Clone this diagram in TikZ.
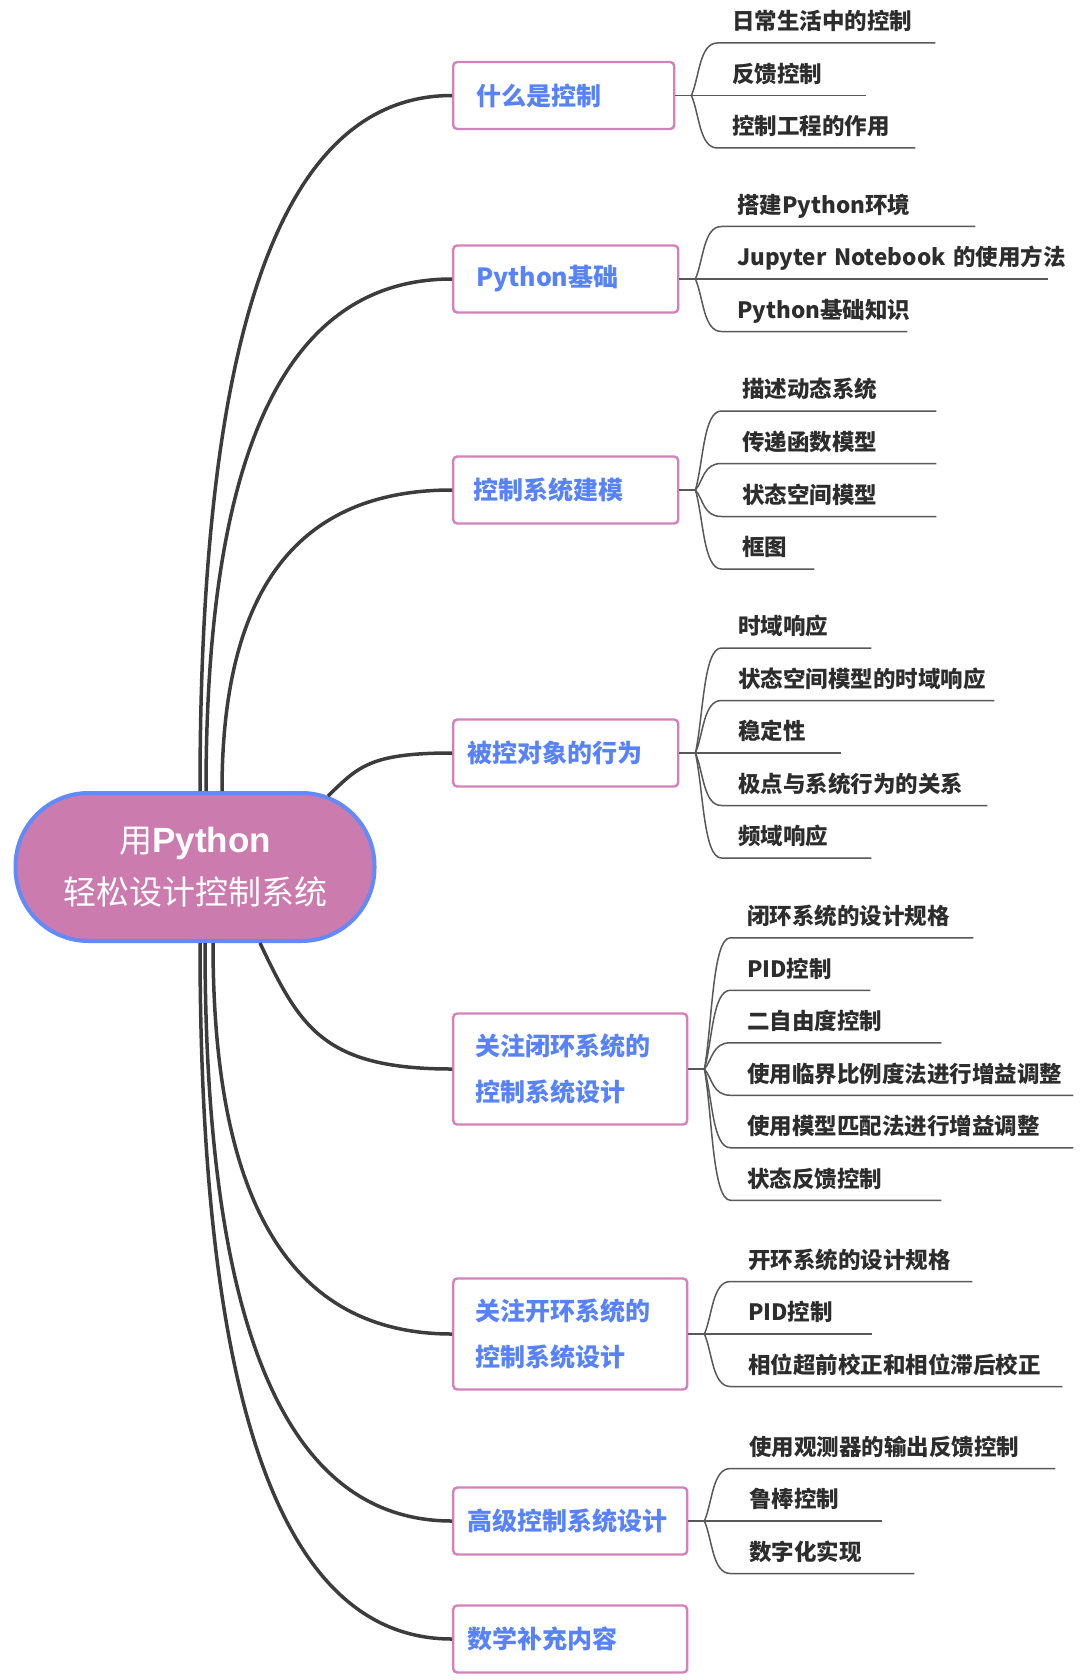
\documentclass[tikz,border=0pt]{standalone}
\usepackage{fontspec}
\usepackage{tikz}
\usetikzlibrary{calc,positioning}
\newfontfamily\cjk{Noto Sans CJK SC}
\newfontfamily\latinbf{Liberation Sans}
\definecolor{rootfill}{RGB}{203,123,173}
\definecolor{rootedge}{RGB}{98,138,250}
\definecolor{topicedge}{RGB}{212,128,186}
\definecolor{topictext}{RGB}{88,130,250}
\definecolor{limbgray}{RGB}{60,60,60}
\definecolor{twiggray}{RGB}{88,88,88}
\definecolor{leaftext}{RGB}{45,45,45}
% root -> topic, and fork -> leaf underline
\newcommand{\limb}[3][0]{\draw[limbline] (#2) .. controls ($(#2)!.67!(#2 |- #3.west)+(#1,0)$)
  and ($(#3.west)!.67!(#2 |- #3.west)$) .. (#3.west);}
\newcommand{\twig}[2]{\draw[twigline] (#1) .. controls ($(#1)!.35!(#1 |- #2.south)+(8,0)$)
  and ($(#1 |- #2.south)+(8,0)$) .. ($(#1 |- #2.south)+(26,0)$) -- (#2.south east);}

\begin{document}
\begin{tikzpicture}[
  x=1pt, y=-1pt,
  root/.style={draw=rootedge, line width=4pt, fill=rootfill, rounded corners=73pt,
    minimum width=359pt, minimum height=148pt, inner sep=0pt, align=center,
    text=white, font=\cjk\fontsize{33}{52}\selectfont},
  topic/.style={draw=topicedge, line width=2.4pt, rounded corners=4pt, fill=white,
    anchor=west, align=left, minimum height=67pt, text=topictext,
    font=\cjk\bfseries\fontsize{25}{46}\selectfont},
  leaf/.style={anchor=south west, align=left, inner xsep=0pt, inner ysep=0pt,
    text depth=13pt, text=leaftext, font=\cjk\bfseries\fontsize{22.5}{27}\selectfont},
  limbline/.style={draw=limbgray, line width=3.5pt},
  twigline/.style={draw=twiggray, line width=1.5pt}
]
\useasboundingbox (0,0) rectangle (1080,1680);

% Central topic.
\node[root] (root) at (195,867) {用{\latinbf\bfseries\fontsize{35}{52}\selectfont Python}\\轻松设计控制系统};
\coordinate (s1) at ([xshift=5pt]root.north);
\coordinate (s2) at ([xshift=11pt]root.north);
\coordinate (s3) at ([xshift=27pt]root.north);
\coordinate (s4) at ([xshift=133pt,yshift=-5pt]root.north);
\coordinate (s5) at ([xshift=65pt]root.south);
\coordinate (s6) at ([xshift=18pt]root.south);
\coordinate (s7) at ([xshift=10pt]root.south);
\coordinate (s8) at ([xshift=5pt]root.south);

% Main topics.
\node[topic, text width=175pt, inner xsep=23pt] (t1) at (452,95.5) {什么是控制};
\node[topic, text width=179pt, inner xsep=23pt] (t2) at (452,279) {Python基础};
\node[topic, text width=185pt, inner xsep=20pt] (t3) at (452,490) {控制系统建模};
\node[topic, text width=197pt, inner xsep=14pt] (t4) at (452,753) {被控对象的行为};
\node[topic, text width=190pt, inner xsep=22pt, minimum height=111pt] (t5) at (452,1069)
  {关注闭环系统的\\控制系统设计};
\node[topic, text width=190pt, inner xsep=22pt, minimum height=111pt] (t6) at (452,1334)
  {关注开环系统的\\控制系统设计};
\node[topic, text width=206pt, inner xsep=14pt] (t7) at (452,1521) {高级控制系统设计};
\node[topic, text width=206pt, inner xsep=14pt] (t8) at (452,1639) {数学补充内容};

\foreach \i in {1,2,3,6,7,8} {\limb{s\i}{t\i}}
\limb[30]{s4}{t4}
\limb[40]{s5}{t5}

% Forks beside the topics.
\foreach \i in {1,...,7} {
  \coordinate (f\i) at ([xshift=16pt]t\i.east);
  \draw[twigline] (t\i.east) -- (f\i);
}

% Leaves: 什么是控制
\node[leaf, text width=203pt] (l11) at (732,43) {日常生活中的控制};
\node[leaf, text width=134pt] (l12) at (732,95.5) {反馈控制};
\node[leaf, text width=183pt] (l13) at (732,148) {控制工程的作用};
\foreach \k in {1,2,3} {\twig{f1}{l1\k}}

% Leaves: Python基础
\node[leaf, text width=238pt] (l21) at (737,226.5) {搭建Python环境};
\node[leaf, text width=311pt] (l22) at (737,279) {\mbox{Jupyter Notebook 的使用方法}};
\node[leaf, text width=170pt] (l23) at (737,331.5) {Python基础知识};
\foreach \k in {1,2,3} {\twig{f2}{l2\k}}

% Leaves: 控制系统建模
\node[leaf, text width=194pt] (l31) at (742,411) {描述动态系统};
\node[leaf, text width=194pt] (l32) at (742,463.5) {传递函数模型};
\node[leaf, text width=194pt] (l33) at (742,516.5) {状态空间模型};
\node[leaf, text width=72pt] (l34) at (742,569) {框图};
\foreach \k in {1,...,4} {\twig{f3}{l3\k}}

% Leaves: 被控对象的行为
\node[leaf, text width=133pt] (l41) at (738,648) {时域响应};
\node[leaf, text width=256pt] (l42) at (738,700.5) {状态空间模型的时域响应};
\node[leaf, text width=103pt] (l43) at (738,753) {稳定性};
\node[leaf, text width=249pt] (l44) at (738,805.5) {极点与系统行为的关系};
\node[leaf, text width=133pt] (l45) at (738,858) {频域响应};
\foreach \k in {1,...,5} {\twig{f4}{l4\k}}

% Leaves: 关注闭环系统的控制系统设计
\node[leaf, text width=226pt] (l51) at (747,937.75) {闭环系统的设计规格};
\node[leaf, text width=123pt] (l52) at (747,990.25) {PID控制};
\node[leaf, text width=194pt] (l53) at (747,1042.75) {二自由度控制};
\node[leaf, text width=326pt] (l54) at (747,1095.25) {使用临界比例度法进行增益调整};
\node[leaf, text width=326pt] (l55) at (747,1147.75) {使用模型匹配法进行增益调整};
\node[leaf, text width=194pt] (l56) at (747,1200.25) {状态反馈控制};
\foreach \k in {1,...,6} {\twig{f5}{l5\k}}

% Leaves: 关注开环系统的控制系统设计
\node[leaf, text width=224pt] (l61) at (748,1281.5) {开环系统的设计规格};
\node[leaf, text width=124pt] (l62) at (748,1334) {PID控制};
\node[leaf, text width=314pt] (l63) at (748,1386.5) {相位超前校正和相位滞后校正};
\foreach \k in {1,2,3} {\twig{f6}{l6\k}}

% Leaves: 高级控制系统设计
\node[leaf, text width=306pt] (l71) at (749,1468.5) {使用观测器的输出反馈控制};
\node[leaf, text width=133pt] (l72) at (749,1521) {鲁棒控制};
\node[leaf, text width=165pt] (l73) at (749,1573.5) {数字化实现};
\foreach \k in {1,2,3} {\twig{f7}{l7\k}}
\end{tikzpicture}
\end{document}
